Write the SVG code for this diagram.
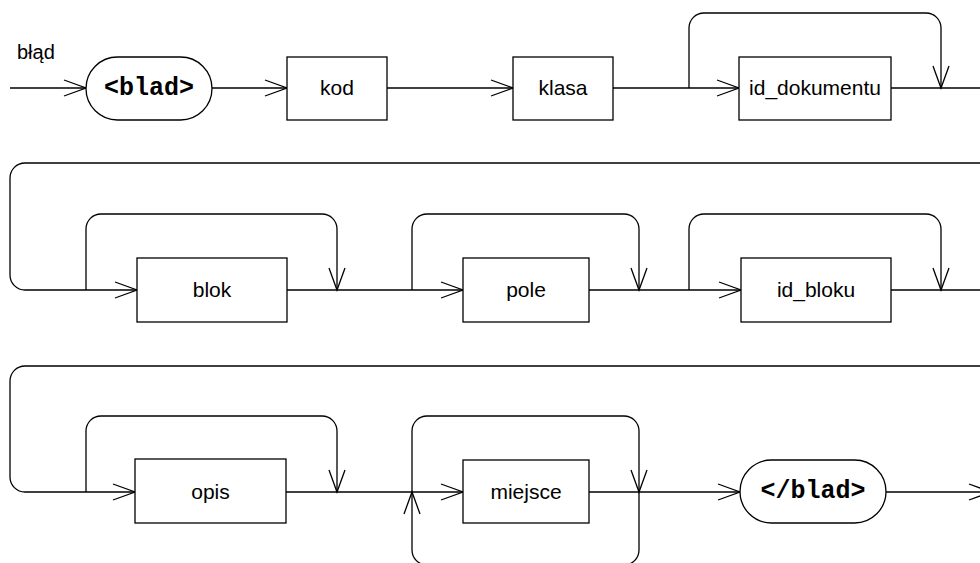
<svg xmlns="http://www.w3.org/2000/svg" width="980" height="563" viewBox="0 0 980 563">
<style>
.box{fill:#fff;stroke:#000;stroke-width:1.3}
.ln{fill:none;stroke:#000;stroke-width:1.3}
.t{font-family:"Liberation Sans",Arial,sans-serif;font-size:21px;text-anchor:middle;fill:#000}
.m{font-family:"Liberation Mono","Courier New",monospace;font-size:25px;font-weight:bold;text-anchor:middle;fill:#000}
.lbl{font-family:"Liberation Sans",Arial,sans-serif;font-size:20px;fill:#000}
</style>
<defs>
<marker id="a" markerUnits="userSpaceOnUse" markerWidth="30" markerHeight="20" viewBox="-24 -10 26 20" refX="0" refY="0" orient="auto" overflow="visible">
<path d="M-22,-8 L0,0 L-22,8" fill="none" stroke="#000" stroke-width="1.3"/>
</marker>
</defs>
<rect width="980" height="563" fill="#fff"/>
<text class="lbl" x="17" y="59">błąd</text>
<g id="connectors">
<path class="ln" d="M10,88 H86" marker-end="url(#a)"/>
<path class="ln" d="M212,88 H287" marker-end="url(#a)"/>
<path class="ln" d="M387,88 H513" marker-end="url(#a)"/>
<path class="ln" d="M613,88 H739" marker-end="url(#a)"/>
<path class="ln" d="M689,88 V28 a15,15 0 0 1 15,-15 H926 a15,15 0 0 1 15,15 V88" marker-end="url(#a)"/>
<path class="ln" d="M891,88 H985 a15,15 0 0 1 15,15 V148 a15,15 0 0 1 -15,15 H25 a15,15 0 0 0 -15,15 V275 a15,15 0 0 0 15,15 H137" marker-end="url(#a)"/>
<path class="ln" d="M86,290 V229 a15,15 0 0 1 15,-15 H322 a15,15 0 0 1 15,15 V290" marker-end="url(#a)"/>
<path class="ln" d="M287,290 H463" marker-end="url(#a)"/>
<path class="ln" d="M412,290 V229 a15,15 0 0 1 15,-15 H624 a15,15 0 0 1 15,15 V290" marker-end="url(#a)"/>
<path class="ln" d="M589,290 H741" marker-end="url(#a)"/>
<path class="ln" d="M689,290 V229 a15,15 0 0 1 15,-15 H926 a15,15 0 0 1 15,15 V290" marker-end="url(#a)"/>
<path class="ln" d="M891,290 H985 a15,15 0 0 1 15,15 V351 a15,15 0 0 1 -15,15 H25 a15,15 0 0 0 -15,15 V477 a15,15 0 0 0 15,15 H135" marker-end="url(#a)"/>
<path class="ln" d="M86,492 V431 a15,15 0 0 1 15,-15 H322 a15,15 0 0 1 15,15 V492" marker-end="url(#a)"/>
<path class="ln" d="M286,492 H463" marker-end="url(#a)"/>
<path class="ln" d="M412,492 V431 a15,15 0 0 1 15,-15 H624 a15,15 0 0 1 15,15 V492" marker-end="url(#a)"/>
<path class="ln" d="M639,492 V550 a15,15 0 0 1 -15,15 H427 a15,15 0 0 1 -15,-15 V492" marker-end="url(#a)"/>
<path class="ln" d="M589,492 H740" marker-end="url(#a)"/>
<path class="ln" d="M886,492 H991" marker-end="url(#a)"/>
</g>
<g id="start"><rect class="box" x="86" y="57" width="126" height="63" rx="31.5"/><text class="m" x="149" y="95">&lt;blad&gt;</text></g>
<g id="kod"><rect class="box" x="287" y="57" width="100" height="63"/><text class="t" x="337" y="95">kod</text></g>
<g id="klasa"><rect class="box" x="513" y="57" width="100" height="63"/><text class="t" x="563" y="95">klasa</text></g>
<g id="id_dokumentu"><rect class="box" x="739" y="57" width="152" height="63"/><text class="t" x="815" y="95">id_dokumentu</text></g>
<g id="blok"><rect class="box" x="137" y="258" width="150" height="64"/><text class="t" x="212" y="297">blok</text></g>
<g id="pole"><rect class="box" x="463" y="258" width="126" height="64"/><text class="t" x="526" y="297">pole</text></g>
<g id="id_bloku"><rect class="box" x="741" y="258" width="150" height="64"/><text class="t" x="816" y="297">id_bloku</text></g>
<g id="opis"><rect class="box" x="135" y="459" width="151" height="64"/><text class="t" x="210.5" y="499">opis</text></g>
<g id="miejsce"><rect class="box" x="463" y="460" width="126" height="63"/><text class="t" x="526" y="499">miejsce</text></g>
<g id="end"><rect class="box" x="740" y="460" width="146" height="63" rx="31.5"/><text class="m" x="813" y="498">&lt;/blad&gt;</text></g>
</svg>
